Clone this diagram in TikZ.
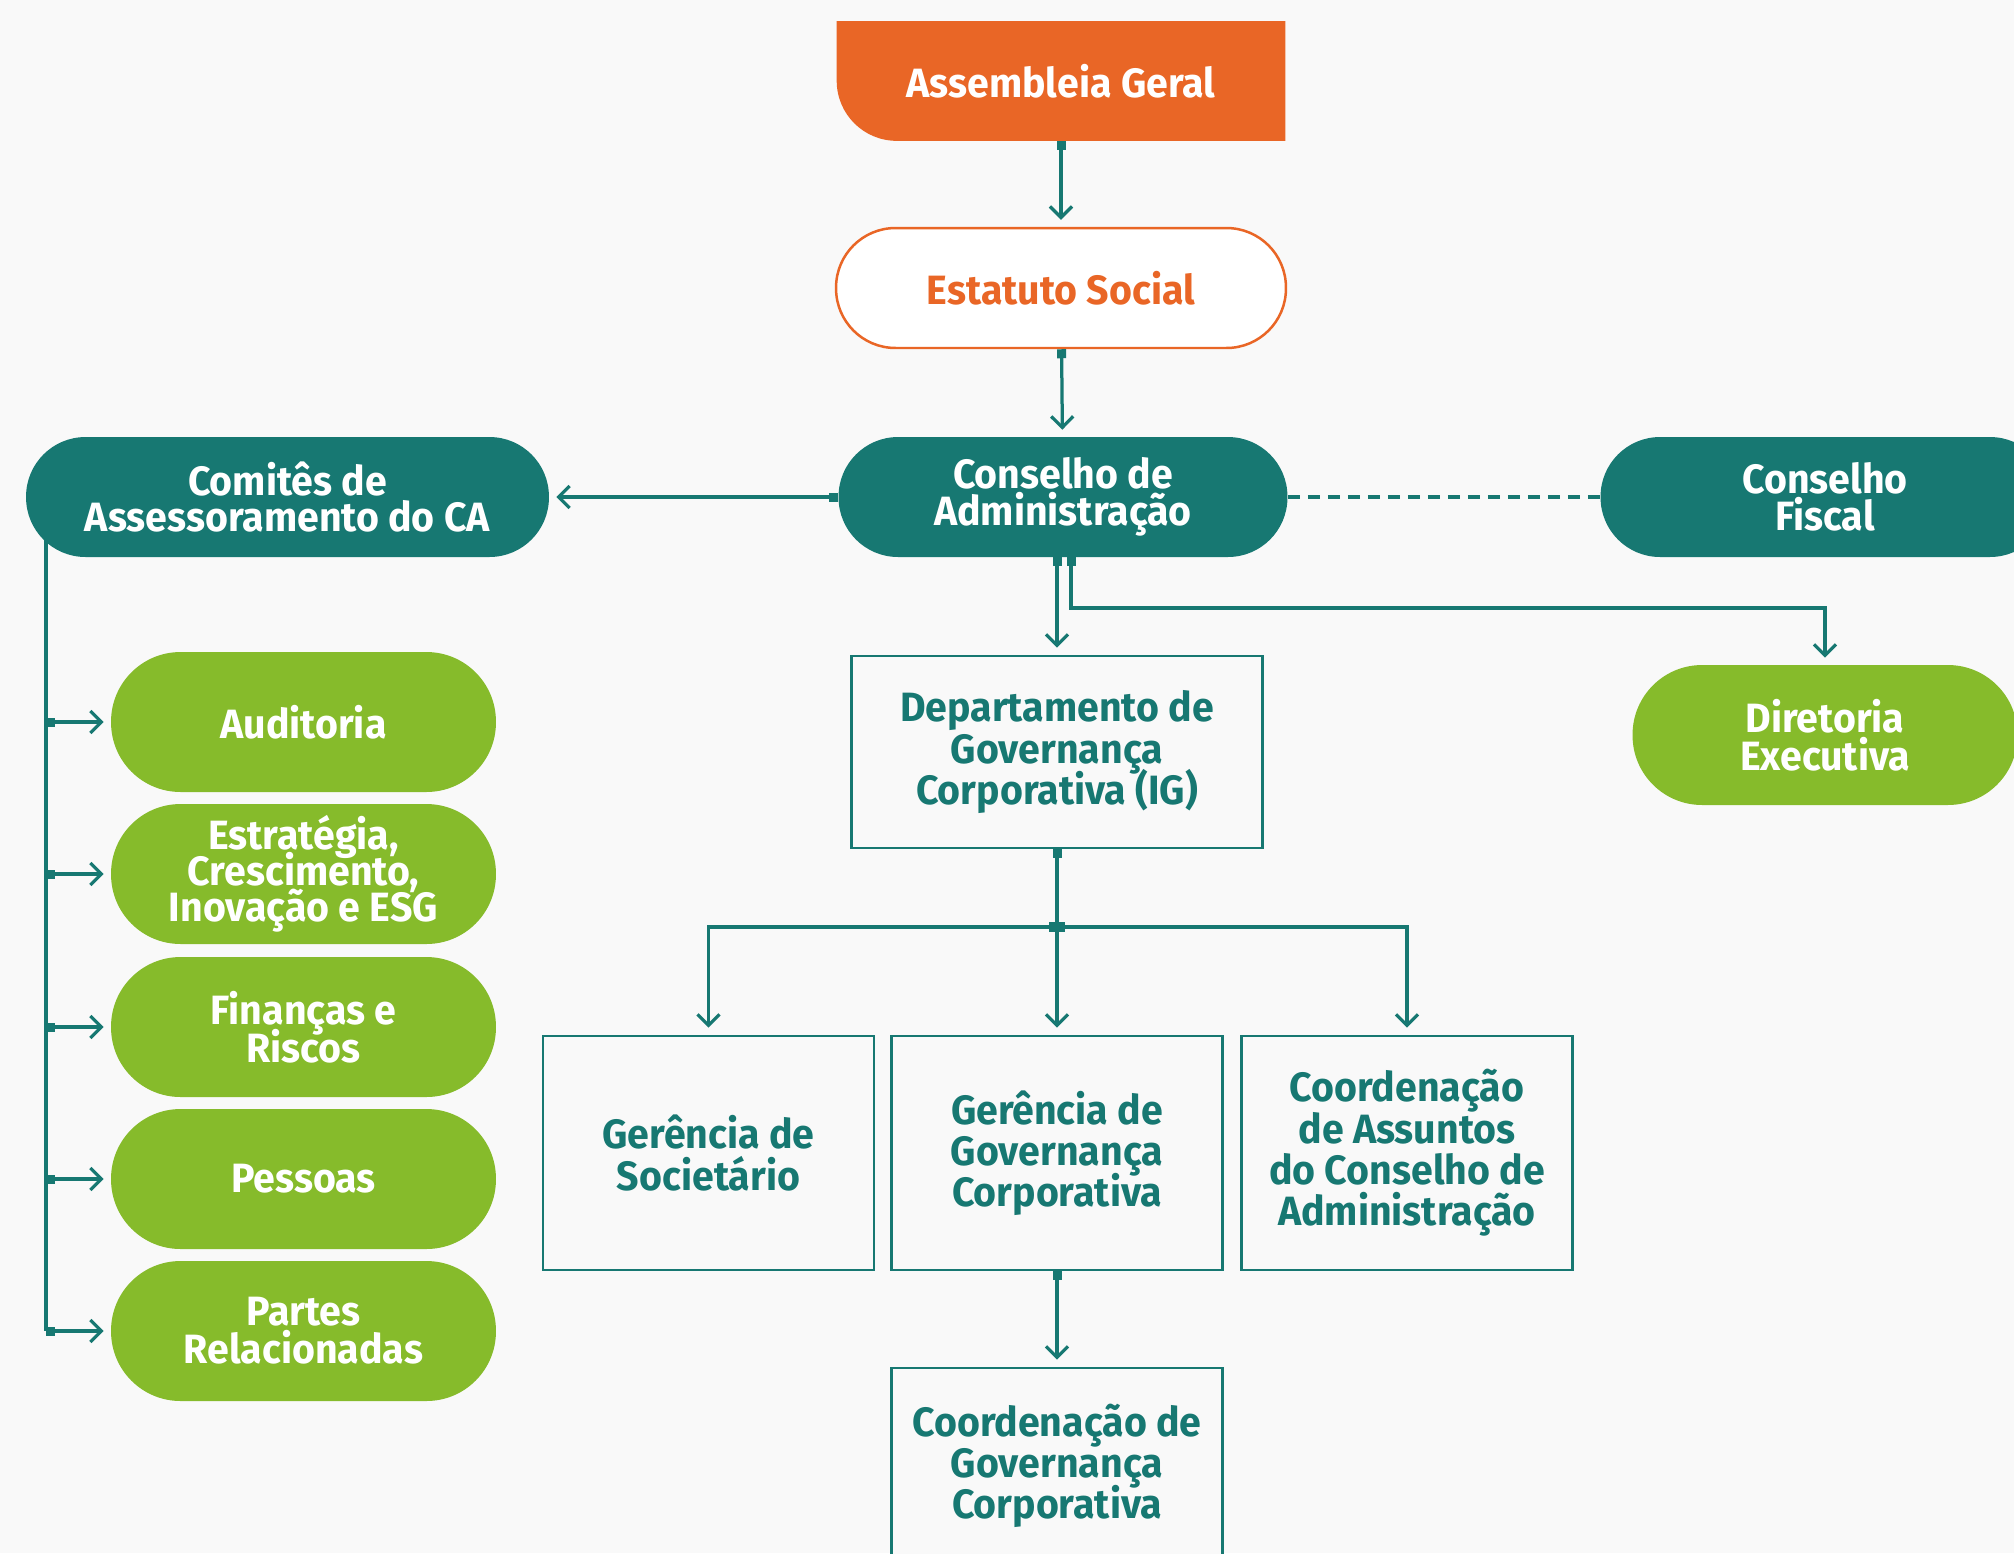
\documentclass[tikz,border=0pt]{standalone}
\usepackage{fontspec}
\setmainfont[FakeStretch=0.96]{Fira Sans}
\usetikzlibrary{arrows.meta}
\usetikzlibrary{backgrounds}

\definecolor{petrol}{RGB}{23,120,114}
\definecolor{laranja}{RGB}{233,102,38}
\definecolor{verde}{RGB}{134,187,43}
\definecolor{fundo}{RGB}{249,249,249}

\newcommand\rotulo[1]{\fontsize{23.3}{#1}\selectfont\bfseries\lineskiplimit=-100pt}

\tikzset{
  pill/.style={rectangle, rounded corners=1.19cm, minimum width=8.98cm, minimum height=2.4cm, inner sep=0pt, fill=petrol, text=white, align=center, font=\rotulo{21}},
  comite/.style={pill, rounded corners=1.39cm, minimum width=7.7cm, minimum height=2.8cm, fill=verde, font=\rotulo{21.5}},
  caixa/.style={rectangle, draw=petrol, line width=0.055cm, fill=fundo, text=petrol, minimum width=6.62cm, minimum height=4.68cm, align=center, font=\rotulo{23.5}},
  link/.style={draw=petrol, line width=0.065cm},
  seta/.style={link, -{Straight Barb[length=0.22cm,width=0.44cm]}, shorten >=0.14cm},
  saida/.style={link, {Square[length=0.18cm,width=0.18cm]}-{Straight Barb[length=0.22cm,width=0.44cm]}, shorten >=0.14cm},
  ramo/.style={link, {Square[length=0.18cm,width=0.18cm]}-},
}

\begin{document}
\begin{tikzpicture}[x=0.02cm, y=-0.02cm]
\useasboundingbox (0,0) rectangle (2014,1553);
\clip (0,0) rectangle (2014,1553);

\node[minimum width=8.96cm, minimum height=2.38cm, text=white, font=\rotulo{26}] (ag) at (1061,81) {Assembleia Geral};
\node[pill, fill=white, draw=laranja, line width=0.05cm, text=laranja, minimum width=9cm] (es) at (1061,288) {Estatuto Social};
\node[pill] (ca) at (1063,497) {Conselho de\\Administração};
\node[pill, minimum width=10.46cm] (com) at (287.5,497) {Comitês de\\Assessoramento do CA};
\node[pill] (cf) at (1825,497) {Conselho\\Fiscal};

\node[comite] (aud) at (303.5,722) {Auditoria};
\node[comite, font=\rotulo{20.5}] (est) at (303.5,874) {Estratégia,\\Crescimento,\\Inovação e ESG};
\node[comite] (fin) at (303.5,1027) {Finanças e\\Riscos};
\node[comite] (pes) at (303.5,1179) {Pessoas};
\node[comite] (par) at (303.5,1331) {Partes\\Relacionadas};
\node[comite] (dir) at (1825,735) {Diretoria\\Executiva};

\node[caixa, minimum width=8.22cm, minimum height=3.84cm] (dgc) at (1057,752) {Departamento de\\Governança\\Corporativa (IG)};
\node[caixa] (ger) at (708.5,1153) {Gerência de\\Societário};
\node[caixa] (ggc) at (1057,1153) {Gerência de\\Governança\\Corporativa};
\node[caixa] (cad) at (1407,1153) {Coordenação\\de Assuntos\\do Conselho de\\Administração};
\node[caixa, minimum height=3.92cm] (cgc) at (1057,1466) {Coordenação de\\Governança\\Corporativa};
\node[fill=petrol, minimum width=0.32cm, minimum height=0.2cm, inner sep=0pt] (jn) at (1057,927) {};
\coordinate (tr) at (46,0);
\coordinate (cdir) at (1071,608);

\begin{scope}[on background layer]
  \fill[fundo] (0,0) rectangle (2014,1553);
  \fill[laranja] (ag.north west) -- (ag.north east) -- (ag.south east) -- ([xshift=1.2cm]ag.south west) arc[start angle=270, end angle=180, radius=1.2cm] -- cycle;
  \draw[link] (com.center -| tr) -- (tr |- par.west);
\end{scope}

\draw[saida] (ag) -- (es);
\draw[saida] (es) -- (ca);
\draw[saida] (ca) -- (com);
\draw[link, dash pattern=on 0.24cm off 0.16cm] (ca) -- (cf);
\draw[saida] (ca.south -| dgc) -- (dgc);
\draw[saida] (ca.south -| cdir) -- (cdir) -| (dir);
\foreach \c in {aud,est,fin,pes,par}
  \draw[saida] (tr |- \c.west) -- (\c.west);
\draw[ramo] (dgc) -- (jn);
\draw[seta] (jn) -| (ger);
\draw[seta] (jn) -- (ggc);
\draw[seta] (jn) -| (cad);
\draw[saida] (ggc) -- (cgc);
\end{tikzpicture}
\end{document}
